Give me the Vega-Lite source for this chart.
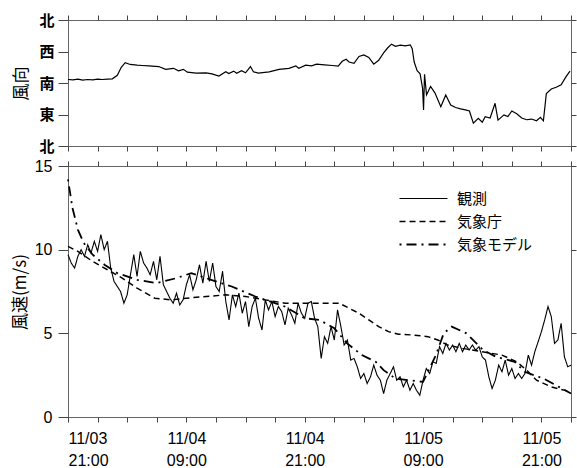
{
  "$schema": "https://vega.github.io/schema/vega-lite/v6.json",
  "background": "white",
  "padding": {"left": 10, "top": 12, "right": 0, "bottom": 0},
  "bounds": "flush",
  "spacing": 20,
  "config": {
    "font": "Liberation Sans",
    "view": {"stroke": "#666", "strokeWidth": 1},
    "axis": {"grid": false, "domain": false, "tickColor": "#444", "labelColor": "black", "labelFont": "Liberation Sans", "labelFontSize": 16, "titleFont": "Noto Sans CJK JP", "titleFontSize": 17, "titleFontWeight": "normal", "titleColor": "black"},
    "legend": {"orient": "none", "legendX": 348, "legendY": 171, "symbolType": "M-12,0H12", "symbolSize": 16, "symbolStrokeWidth": 1.5, "symbolStrokeColor": "black", "labelFont": "Noto Sans CJK JP", "labelFontSize": 15, "labelColor": "black", "labelOffset": 26, "rowPadding": 7}
  },
  "datasets": {
    "dir": [
      {"h":0,"d":190},{"h":0.5,"d":189},{"h":1,"d":191},{"h":1.5,"d":188},{"h":2,"d":190},{"h":2.5,"d":189},{"h":3,"d":191},{"h":3.5,"d":190},{"h":4,"d":191},{"h":4.5,"d":192},{"h":5,"d":202},{"h":5.4,"d":225},{"h":5.8,"d":238},{"h":6.3,"d":233},{"h":7,"d":231},{"h":7.5,"d":230},{"h":8.2,"d":229},{"h":9.2,"d":227},{"h":9.9,"d":219},{"h":10.7,"d":222},{"h":11.2,"d":215},{"h":11.7,"d":219},{"h":12.1,"d":211},{"h":13,"d":208},{"h":14,"d":209},{"h":14.6,"d":206},{"h":15.3,"d":200},{"h":16,"d":212},{"h":16.3,"d":207},{"h":16.8,"d":214},{"h":17.1,"d":208},{"h":17.6,"d":215},{"h":18,"d":209},{"h":18.5,"d":227},{"h":18.8,"d":212},{"h":19.3,"d":208},{"h":20.4,"d":212},{"h":21.4,"d":219},{"h":22.4,"d":222},{"h":23.1,"d":229},{"h":23.4,"d":222},{"h":24.1,"d":231},{"h":24.7,"d":229},{"h":25.2,"d":234},{"h":26,"d":232},{"h":26.8,"d":230},{"h":27.4,"d":228},{"h":27.8,"d":242},{"h":28.2,"d":248},{"h":28.5,"d":240},{"h":29,"d":236},{"h":29.5,"d":256},{"h":30,"d":260},{"h":30.5,"d":253},{"h":31,"d":234},{"h":31.5,"d":245},{"h":32,"d":266},{"h":32.4,"d":280},{"h":32.8,"d":291},{"h":33.2,"d":285},{"h":33.7,"d":288},{"h":34.2,"d":286},{"h":34.7,"d":289},{"h":34.9,"d":278},{"h":35.1,"d":240},{"h":35.4,"d":215},{"h":35.7,"d":206},{"h":35.95,"d":165},{"h":36.05,"d":103},{"h":36.15,"d":205},{"h":36.35,"d":146},{"h":36.76,"d":170},{"h":37.2,"d":152},{"h":37.8,"d":112},{"h":38.3,"d":146},{"h":38.8,"d":117},{"h":39.3,"d":110},{"h":39.8,"d":106},{"h":40.3,"d":103},{"h":40.7,"d":100},{"h":41.1,"d":65},{"h":41.6,"d":79},{"h":42,"d":68},{"h":42.3,"d":84},{"h":42.8,"d":80},{"h":43.3,"d":122},{"h":43.6,"d":74},{"h":44.2,"d":89},{"h":44.6,"d":84},{"h":45,"d":100},{"h":45.5,"d":92},{"h":46,"d":80},{"h":46.5,"d":75},{"h":47,"d":77},{"h":47.5,"d":72},{"h":47.9,"d":82},{"h":48.2,"d":72},{"h":48.5,"d":150},{"h":49,"d":163},{"h":49.5,"d":168},{"h":50,"d":175},{"h":50.5,"d":198},{"h":50.9,"d":214}
    ],
    "speed": [
      {"h":0,"v":9.7,"s":"観測"},{"h":0.33,"v":9.2,"s":"観測"},{"h":0.67,"v":8.9,"s":"観測"},{"h":1,"v":9.6,"s":"観測"},{"h":1.33,"v":10.0,"s":"観測"},{"h":1.67,"v":9.6,"s":"観測"},{"h":2,"v":10.3,"s":"観測"},{"h":2.33,"v":9.8,"s":"観測"},{"h":2.67,"v":10.5,"s":"観測"},{"h":3,"v":9.9,"s":"観測"},{"h":3.33,"v":10.9,"s":"観測"},{"h":3.67,"v":10.0,"s":"観測"},{"h":4,"v":10.5,"s":"観測"},{"h":4.33,"v":8.9,"s":"観測"},{"h":4.67,"v":8.1,"s":"観測"},{"h":5,"v":7.8,"s":"観測"},{"h":5.33,"v":7.5,"s":"観測"},{"h":5.67,"v":6.8,"s":"観測"},{"h":6,"v":7.3,"s":"観測"},{"h":6.33,"v":8.5,"s":"観測"},{"h":6.67,"v":9.7,"s":"観測"},{"h":7,"v":8.4,"s":"観測"},{"h":7.33,"v":9.9,"s":"観測"},{"h":7.67,"v":9.2,"s":"観測"},{"h":8,"v":8.9,"s":"観測"},{"h":8.33,"v":8.5,"s":"観測"},{"h":8.67,"v":9.3,"s":"観測"},{"h":9,"v":8.2,"s":"観測"},{"h":9.33,"v":9.6,"s":"観測"},{"h":9.67,"v":7.9,"s":"観測"},{"h":10,"v":7.5,"s":"観測"},{"h":10.33,"v":7.1,"s":"観測"},{"h":10.67,"v":6.8,"s":"観測"},{"h":11,"v":7.4,"s":"観測"},{"h":11.33,"v":6.7,"s":"観測"},{"h":11.67,"v":7.0,"s":"観測"},{"h":12,"v":7.9,"s":"観測"},{"h":12.33,"v":8.5,"s":"観測"},{"h":12.67,"v":7.6,"s":"観測"},{"h":13,"v":8.2,"s":"観測"},{"h":13.33,"v":9.1,"s":"観測"},{"h":13.67,"v":8.0,"s":"観測"},{"h":14,"v":9.3,"s":"観測"},{"h":14.33,"v":8.1,"s":"観測"},{"h":14.67,"v":9.2,"s":"観測"},{"h":15,"v":7.8,"s":"観測"},{"h":15.33,"v":7.5,"s":"観測"},{"h":15.67,"v":8.7,"s":"観測"},{"h":16,"v":6.9,"s":"観測"},{"h":16.33,"v":5.8,"s":"観測"},{"h":16.67,"v":7.3,"s":"観測"},{"h":17,"v":6.6,"s":"観測"},{"h":17.33,"v":7.4,"s":"観測"},{"h":17.67,"v":6.2,"s":"観測"},{"h":18,"v":6.9,"s":"観測"},{"h":18.33,"v":5.4,"s":"観測"},{"h":18.67,"v":6.6,"s":"観測"},{"h":19,"v":7.1,"s":"観測"},{"h":19.33,"v":5.9,"s":"観測"},{"h":19.67,"v":5.2,"s":"観測"},{"h":20,"v":7.0,"s":"観測"},{"h":20.33,"v":6.4,"s":"観測"},{"h":20.67,"v":6.9,"s":"観測"},{"h":21,"v":6.0,"s":"観測"},{"h":21.33,"v":6.6,"s":"観測"},{"h":21.67,"v":6.3,"s":"観測"},{"h":22,"v":5.5,"s":"観測"},{"h":22.33,"v":6.5,"s":"観測"},{"h":22.67,"v":6.1,"s":"観測"},{"h":23,"v":5.6,"s":"観測"},{"h":23.33,"v":6.8,"s":"観測"},{"h":23.67,"v":6.2,"s":"観測"},{"h":24,"v":5.9,"s":"観測"},{"h":24.33,"v":6.8,"s":"観測"},{"h":24.67,"v":6.9,"s":"観測"},{"h":25,"v":5.9,"s":"観測"},{"h":25.33,"v":5.4,"s":"観測"},{"h":25.67,"v":3.5,"s":"観測"},{"h":26,"v":4.8,"s":"観測"},{"h":26.33,"v":4.4,"s":"観測"},{"h":26.67,"v":5.4,"s":"観測"},{"h":27,"v":4.6,"s":"観測"},{"h":27.33,"v":6.4,"s":"観測"},{"h":27.67,"v":5.4,"s":"観測"},{"h":28,"v":4.3,"s":"観測"},{"h":28.33,"v":4.6,"s":"観測"},{"h":28.67,"v":3.4,"s":"観測"},{"h":29,"v":3.5,"s":"観測"},{"h":29.33,"v":3.0,"s":"観測"},{"h":29.67,"v":2.3,"s":"観測"},{"h":30,"v":2.6,"s":"観測"},{"h":30.33,"v":2.0,"s":"観測"},{"h":30.67,"v":2.4,"s":"観測"},{"h":31,"v":3.1,"s":"観測"},{"h":31.33,"v":2.5,"s":"観測"},{"h":31.67,"v":2.2,"s":"観測"},{"h":32,"v":1.4,"s":"観測"},{"h":32.33,"v":2.2,"s":"観測"},{"h":32.67,"v":2.6,"s":"観測"},{"h":33,"v":3.0,"s":"観測"},{"h":33.33,"v":2.2,"s":"観測"},{"h":33.67,"v":2.4,"s":"観測"},{"h":34,"v":1.8,"s":"観測"},{"h":34.33,"v":2.2,"s":"観測"},{"h":34.67,"v":1.6,"s":"観測"},{"h":35,"v":2.0,"s":"観測"},{"h":35.33,"v":1.6,"s":"観測"},{"h":35.67,"v":1.3,"s":"観測"},{"h":36,"v":2.2,"s":"観測"},{"h":36.33,"v":2.9,"s":"観測"},{"h":36.67,"v":2.6,"s":"観測"},{"h":37,"v":3.3,"s":"観測"},{"h":37.33,"v":3.2,"s":"観測"},{"h":37.67,"v":4.2,"s":"観測"},{"h":38,"v":3.8,"s":"観測"},{"h":38.33,"v":4.4,"s":"観測"},{"h":38.67,"v":4.0,"s":"観測"},{"h":39,"v":4.3,"s":"観測"},{"h":39.33,"v":3.9,"s":"観測"},{"h":39.67,"v":4.4,"s":"観測"},{"h":40,"v":3.9,"s":"観測"},{"h":40.33,"v":4.3,"s":"観測"},{"h":40.67,"v":4.0,"s":"観測"},{"h":41,"v":4.3,"s":"観測"},{"h":41.33,"v":4.0,"s":"観測"},{"h":41.67,"v":4.2,"s":"観測"},{"h":42,"v":3.6,"s":"観測"},{"h":42.33,"v":3.4,"s":"観測"},{"h":42.67,"v":2.4,"s":"観測"},{"h":43,"v":1.7,"s":"観測"},{"h":43.33,"v":2.2,"s":"観測"},{"h":43.67,"v":3.1,"s":"観測"},{"h":44,"v":2.7,"s":"観測"},{"h":44.33,"v":3.4,"s":"観測"},{"h":44.67,"v":2.5,"s":"観測"},{"h":45,"v":2.9,"s":"観測"},{"h":45.33,"v":2.3,"s":"観測"},{"h":45.67,"v":2.6,"s":"観測"},{"h":46,"v":2.3,"s":"観測"},{"h":46.33,"v":2.6,"s":"観測"},{"h":46.67,"v":3.7,"s":"観測"},{"h":47,"v":3.1,"s":"観測"},{"h":47.33,"v":3.9,"s":"観測"},{"h":47.67,"v":4.5,"s":"観測"},{"h":48,"v":5.1,"s":"観測"},{"h":48.33,"v":5.8,"s":"観測"},{"h":48.67,"v":6.6,"s":"観測"},{"h":49,"v":6.0,"s":"観測"},{"h":49.33,"v":4.4,"s":"観測"},{"h":49.67,"v":4.6,"s":"観測"},{"h":50,"v":5.6,"s":"観測"},{"h":50.33,"v":3.6,"s":"観測"},{"h":50.67,"v":3.0,"s":"観測"},{"h":51,"v":3.1,"s":"観測"},
      {"h":0,"v":10.2,"s":"気象庁"},{"h":1,"v":9.9,"s":"気象庁"},{"h":2.5,"v":9.3,"s":"気象庁"},{"h":4,"v":8.8,"s":"気象庁"},{"h":5.5,"v":8.3,"s":"気象庁"},{"h":7,"v":7.7,"s":"気象庁"},{"h":8.8,"v":7.1,"s":"気象庁"},{"h":10.5,"v":7.0,"s":"気象庁"},{"h":12,"v":7.1,"s":"気象庁"},{"h":14,"v":7.2,"s":"気象庁"},{"h":16,"v":7.3,"s":"気象庁"},{"h":18,"v":7.2,"s":"気象庁"},{"h":20,"v":7.0,"s":"気象庁"},{"h":22,"v":6.8,"s":"気象庁"},{"h":24,"v":6.8,"s":"気象庁"},{"h":26,"v":6.8,"s":"気象庁"},{"h":27.5,"v":6.8,"s":"気象庁"},{"h":28.5,"v":6.5,"s":"気象庁"},{"h":29.5,"v":6.2,"s":"気象庁"},{"h":30.5,"v":5.8,"s":"気象庁"},{"h":31.5,"v":5.4,"s":"気象庁"},{"h":32.5,"v":5.1,"s":"気象庁"},{"h":33.5,"v":4.95,"s":"気象庁"},{"h":35,"v":4.9,"s":"気象庁"},{"h":36.5,"v":4.8,"s":"気象庁"},{"h":37.5,"v":4.6,"s":"気象庁"},{"h":38.5,"v":4.3,"s":"気象庁"},{"h":40,"v":4.1,"s":"気象庁"},{"h":42,"v":3.9,"s":"気象庁"},{"h":44,"v":3.7,"s":"気象庁"},{"h":45.5,"v":3.3,"s":"気象庁"},{"h":46.5,"v":2.8,"s":"気象庁"},{"h":47.5,"v":2.2,"s":"気象庁"},{"h":49,"v":1.8,"s":"気象庁"},{"h":51,"v":1.5,"s":"気象庁"},
      {"h":0,"v":14.2,"s":"気象モデル"},{"h":0.45,"v":12.5,"s":"気象モデル"},{"h":1,"v":11.2,"s":"気象モデル"},{"h":1.6,"v":10.4,"s":"気象モデル"},{"h":2.5,"v":9.7,"s":"気象モデル"},{"h":3.7,"v":9.1,"s":"気象モデル"},{"h":5,"v":8.6,"s":"気象モデル"},{"h":7,"v":8.2,"s":"気象モデル"},{"h":9,"v":8.0,"s":"気象モデル"},{"h":11,"v":8.3,"s":"気象モデル"},{"h":12.5,"v":8.6,"s":"気象モデル"},{"h":14.5,"v":8.2,"s":"気象モデル"},{"h":16.6,"v":7.8,"s":"気象モデル"},{"h":19,"v":7.2,"s":"気象モデル"},{"h":22,"v":6.6,"s":"気象モデル"},{"h":24,"v":5.9,"s":"気象モデル"},{"h":25.5,"v":5.8,"s":"気象モデル"},{"h":27,"v":5.3,"s":"気象モデル"},{"h":28.3,"v":4.4,"s":"気象モデル"},{"h":29.8,"v":3.7,"s":"気象モデル"},{"h":31.2,"v":3.3,"s":"気象モデル"},{"h":32,"v":2.8,"s":"気象モデル"},{"h":33.2,"v":2.3,"s":"気象モデル"},{"h":34.5,"v":2.2,"s":"気象モデル"},{"h":36,"v":2.1,"s":"気象モデル"},{"h":37.3,"v":3.7,"s":"気象モデル"},{"h":38.1,"v":5.0,"s":"気象モデル"},{"h":38.9,"v":5.4,"s":"気象モデル"},{"h":40.4,"v":5.0,"s":"気象モデル"},{"h":42.1,"v":4.0,"s":"気象モデル"},{"h":43.4,"v":3.6,"s":"気象モデル"},{"h":45.3,"v":3.3,"s":"気象モデル"},{"h":46.3,"v":2.7,"s":"気象モデル"},{"h":48.2,"v":2.3,"s":"気象モデル"},{"h":50.4,"v":1.6,"s":"気象モデル"},{"h":51,"v":1.4,"s":"気象モデル"}
    ]
  },
  "vconcat": [
    {
      "width": 503,
      "height": 126,
      "data": {"name": "dir"},
      "layer": [
        {
          "mark": {"type": "line", "color": "black", "strokeWidth": 1.2},
          "encoding": {
            "x": {"field": "h", "type": "quantitative", "scale": {"domain": [0, 51], "nice": false, "zero": false}, "axis": {"orient": "bottom", "values": [0,3,6,9,12,15,18,21,24,27,30,33,36,39,42,45,48,51], "labels": false, "tickSize": 5, "title": null}},
            "y": {"field": "d", "type": "quantitative", "scale": {"domain": [0, 360], "nice": false}, "axis": {"orient": "left", "values": [0, 90, 180, 270, 360], "labelExpr": "datum.value == 90 ? '東' : datum.value == 180 ? '南' : datum.value == 270 ? '西' : '北'", "labelFont": "Noto Sans CJK JP", "labelFontSize": 15, "labelFontWeight": "bold", "labelPadding": 4, "tickSize": 10, "title": "風向", "titlePadding": 8}}
          }
        },
        {
          "mark": {"type": "point", "opacity": 0},
          "encoding": {
            "x": {"field": "h", "type": "quantitative", "axis": {"orient": "top", "values": [0,3,6,9,12,15,18,21,24,27,30,33,36,39,42,45,48,51], "labels": false, "tickSize": 5, "title": null}},
            "y": {"field": "d", "type": "quantitative", "axis": {"orient": "right", "values": [0, 90, 180, 270, 360], "labels": false, "tickSize": 5, "title": null}}
          }
        }
      ],
      "resolve": {"axis": {"x": "independent", "y": "independent"}}
    },
    {
      "width": 503,
      "height": 251,
      "data": {"name": "speed"},
      "layer": [
        {
          "mark": {"type": "line", "color": "black"},
          "encoding": {
            "x": {"field": "h", "type": "quantitative", "scale": {"domain": [0, 51], "nice": false, "zero": false}, "axis": {"orient": "bottom", "values": [0,3,6,9,12,15,18,21,24,27,30,33,36,39,42,45,48,51], "labelExpr": "datum.value % 12 == 0 ? ['11/0' + (3 + floor((datum.value + 21) / 24)), datum.value % 24 == 0 ? '21:00' : '09:00'] : ''", "labelLineHeight": 22, "labelPadding": 8, "tickSize": 5, "title": null}},
            "y": {"field": "v", "type": "quantitative", "scale": {"domain": [0, 15], "nice": false}, "axis": {"orient": "left", "values": [0, 5, 10, 15], "tickSize": 10, "labelPadding": 6, "title": "風速(m/s)", "titlePadding": 5}},
            "strokeDash": {"field": "s", "type": "nominal", "scale": {"domain": ["観測", "気象庁", "気象モデル"], "range": [[1, 0], [6, 4], [2, 5, 10, 5]]}, "legend": {"title": null}},
            "strokeWidth": {"field": "s", "type": "nominal", "scale": {"domain": ["観測", "気象庁", "気象モデル"], "range": [1.1, 1.8, 2]}, "legend": null}
          }
        },
        {
          "mark": {"type": "point", "opacity": 0},
          "encoding": {
            "x": {"field": "h", "type": "quantitative", "axis": {"orient": "top", "values": [0,3,6,9,12,15,18,21,24,27,30,33,36,39,42,45,48,51], "labels": false, "tickSize": 5, "title": null}},
            "y": {"field": "v", "type": "quantitative", "axis": {"orient": "right", "values": [0, 5, 10, 15], "labels": false, "tickSize": 5, "title": null}}
          }
        }
      ],
      "resolve": {"axis": {"x": "independent", "y": "independent"}}
    }
  ]
}
